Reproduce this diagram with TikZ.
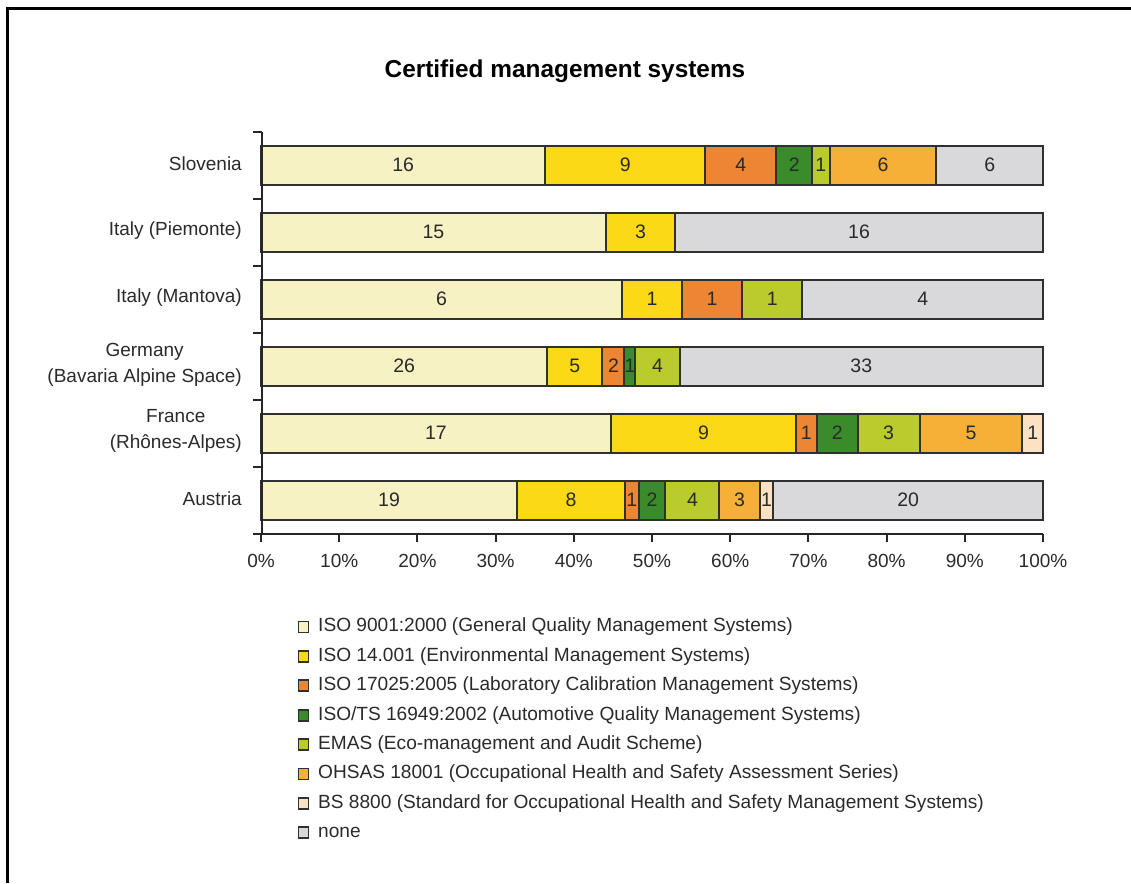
\documentclass[tikz,border=0pt]{standalone}
\usepackage{fontspec}
\setmainfont{Liberation Sans}
\definecolor{c1}{HTML}{F7F2C4}
\definecolor{c2}{HTML}{FCD916}
\definecolor{c3}{HTML}{EC8632}
\definecolor{c4}{HTML}{3A8B2A}
\definecolor{c5}{HTML}{B9CC2C}
\definecolor{c6}{HTML}{F6B038}
\definecolor{c7}{HTML}{FCE2C2}
\definecolor{c8}{HTML}{D9D9DC}
\definecolor{edge}{HTML}{303030}
\definecolor{txt}{HTML}{2A2A2A}
\tikzset{
  segment/.style={draw=edge, line width=2pt},
  vallabel/.style={inner sep=0pt, text=txt, font=\fontsize{19.5}{22}\selectfont},
  catlabel/.style={inner sep=0pt, anchor=east, align=center, text=txt, font=\fontsize{19}{26}\selectfont},
  ticklabel/.style={inner sep=0pt, text=txt, font=\fontsize{19}{22}\selectfont},
  legsq/.style={draw=edge, line width=1.8pt, minimum width=10pt, minimum height=11pt, inner sep=0pt},
  legtext/.style={inner sep=0pt, anchor=west, text=txt, font=\fontsize{19.1}{22}\selectfont},
  axisline/.style={draw=black!85, line width=2pt}
}
\newcommand{\chartbar}[4]{%
  \gdef\cumx{0}%
  \foreach \v [count=\i] in {#4} {%
    \ifnum\v>0\relax
      \pgfmathsetmacro{\xa}{261+782*(\cumx/#3)}%
      \pgfmathsetmacro{\newc}{\cumx+\v}%
      \pgfmathsetmacro{\xb}{261+782*(\newc/#3)}%
      \xdef\cumx{\newc}%
      \filldraw[segment, fill=c\i] (\xa,#2-19.5) rectangle (\xb,#2+19.5);
      \node[vallabel] (#1-\i) at ({(\xa+\xb)/2},#2-1) {\v};
    \fi
  }%
}
\begin{document}
\begin{tikzpicture}[x=1pt,y=-1pt]
\useasboundingbox (0,0) rectangle (1131,883);
% frame
\draw[line width=3pt, black] (7,883) -- (7,9) -- (1131,9);
% title
\node[inner sep=0pt, font=\fontsize{24.4}{28}\selectfont\bfseries] (title) at (565,71) {Certified management systems};
% bars
\chartbar{slo}{165.5}{44}{16,9,4,2,1,6,0,6}
\chartbar{pie}{232.5}{34}{15,3,0,0,0,0,0,16}
\chartbar{man}{299.5}{13}{6,1,1,0,1,0,0,4}
\chartbar{ger}{366.5}{71}{26,5,2,1,4,0,0,33}
\chartbar{fra}{433.5}{38}{17,9,1,2,3,5,1,0}
\chartbar{aut}{500.5}{58}{19,8,1,2,4,3,1,20}
% axes
\draw[axisline] (262,132) -- (262,534);
\foreach \k in {0,...,6} {
  \draw[axisline] (253,132+67*\k) -- (262,132+67*\k);
}
\draw[axisline] (253,534) -- (1043,534);
\foreach \k in {0,...,10} {
  \draw[axisline] (261+78.2*\k,534) -- (261+78.2*\k,542);
  \node[ticklabel] (tl\k) at (261+78.2*\k,561) {\pgfmathparse{int(10*\k)}\pgfmathresult\%};
}
% category labels
\node[catlabel] (cslo) at (242,163.5) {Slovenia};
\node[catlabel] (cpie) at (242,230.5) {Italy (Piemonte)};
\node[catlabel] (cman) at (242,297.5) {Italy (Mantova)};
\node[catlabel] (cger) at (242,365) {Germany\\(Bavaria Alpine Space)};
\node[catlabel] (cfra) at (242,431) {France\\(Rhônes-Alpes)};
\node[catlabel] (caut) at (242,498.5) {Austria};
% legend
\foreach \t [count=\i] in {
  {ISO 9001:2000 (General Quality Management Systems)},
  {ISO 14.001 (Environmental Management Systems)},
  {ISO 17025:2005 (Laboratory Calibration Management Systems)},
  {ISO/TS 16949:2002 (Automotive Quality Management Systems)},
  {EMAS (Eco-management and Audit Scheme)},
  {OHSAS 18001 (Occupational Health and Safety Assessment Series)},
  {BS 8800 (Standard for Occupational Health and Safety Management Systems)},
  {none}} {
  \node[legsq, fill=c\i] (sq\i) at (303.5,627+29.4*\i-29.4) {};
  \node[legtext] (lt\i) at (318,627+29.4*\i-29.4) {\t};
}
\end{tikzpicture}
\end{document}
